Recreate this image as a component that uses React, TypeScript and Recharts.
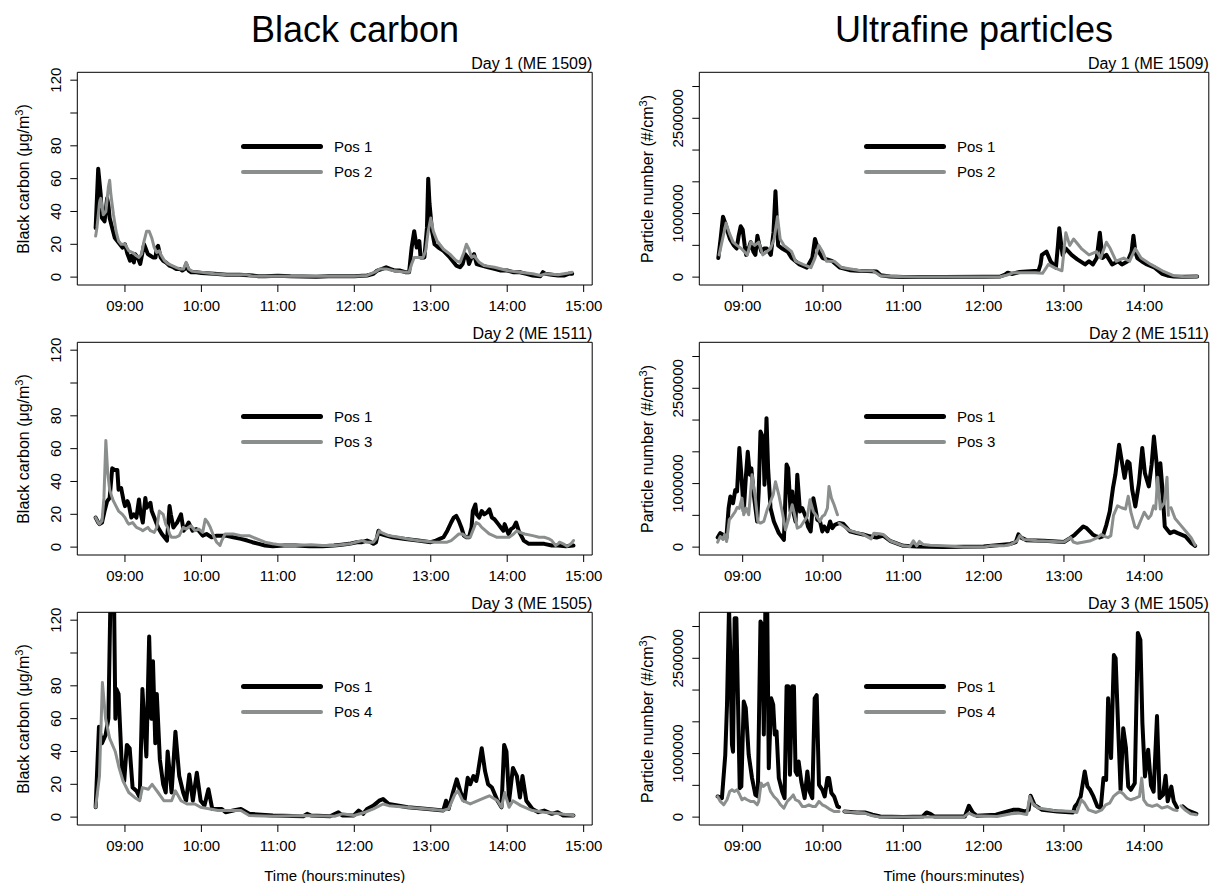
import React from "react";
import { LineChart, Line, XAxis, YAxis, ReferenceArea } from "recharts";

type Pt = [number, number | null];

// time is minutes after midnight
const bcHourTicks = [540, 600, 660, 720, 780, 840, 900];
const ufpHourTicks = [540, 600, 660, 720, 780, 840];
const bcTicks = [0, 20, 40, 60, 80, 100, 120];
const bcTickLabels = [0, 20, 40, 60, 80, 120];
const ufpTicks = [0, 500000, 1000000, 1500000, 2000000, 2500000, 3000000];
const ufpTickLabels = [0, 1000000, 2500000];
const dayLabels = ["Day 1 (ME 1509)", "Day 2 (ME 1511)", "Day 3 (ME 1505)"];
const refNames = ["Pos 2", "Pos 3", "Pos 4"];

// Black carbon (µg/m3)
const bcDay1Pos1: Pt[] = [
  [517, 30], [519, 66], [521, 50], [522, 36], [524, 34], [526, 48], [527, 44], [528, 36], [530, 30], [532, 24],
  [534, 22], [536, 20], [538, 18], [540, 20], [542, 14], [544, 10], [545, 13], [547, 9], [548, 14], [550, 12],
  [552, 8], [553, 12], [555, 20], [556, 18], [558, 14], [560, 13], [562, 12], [564, 12], [565, 18], [566, 19],
  [568, 12], [570, 10], [572, 9], [575, 7], [578, 6], [580, 5], [583, 5], [585, 4], [587, 5], [588, 8],
  [590, 4], [592, 3], [596, 3], [600, 2.5], [610, 2], [620, 1.5], [630, 1.5], [640, 1], [645, 0.5], [650, 0.5],
  [660, 0.8], [670, 0.5], [690, 0.3], [700, 0.5], [710, 0.5], [720, 0.5], [730, 1], [735, 2], [738, 4], [742, 5],
  [745, 6], [748, 5], [752, 4], [756, 4], [760, 3], [763, 3], [765, 18], [767, 28], [769, 18], [771, 22],
  [772, 12], [775, 12], [777, 30], [778, 60], [779, 45], [781, 28], [783, 20], [786, 18], [790, 16], [795, 12],
  [798, 9], [800, 7], [803, 6], [805, 8], [807, 14], [809, 12], [810, 8], [812, 12], [814, 14], [816, 8],
  [820, 7], [825, 6], [830, 5], [835, 4], [840, 4], [845, 3], [850, 3], [855, 2], [860, 1], [866, 0.5],
  [868, 3], [870, 2], [875, 1.5], [880, 1], [885, 1], [888, 2], [891, 2],
];
const bcDay1Pos2: Pt[] = [
  [517, 25], [518, 30], [520, 45], [521, 48], [523, 38], [525, 40], [527, 55], [528, 59], [529, 50], [531, 38],
  [533, 28], [535, 22], [537, 20], [540, 20], [543, 16], [546, 15], [549, 13], [551, 12], [553, 14], [555, 22],
  [557, 28], [559, 28], [561, 24], [563, 18], [565, 15], [567, 16], [568, 14], [571, 10], [574, 8], [577, 7],
  [580, 6], [583, 5], [586, 5], [588, 9], [590, 5], [593, 3.5], [600, 3], [610, 2], [620, 1.5], [635, 1.5],
  [640, 0.5], [660, 0.5], [690, 0.5], [720, 0.5], [730, 1], [736, 3], [740, 5], [745, 5], [750, 4], [760, 3],
  [763, 3], [765, 8], [767, 12], [770, 12], [774, 12], [776, 16], [778, 28], [780, 36], [782, 28], [785, 22],
  [790, 17], [795, 14], [800, 10], [803, 9], [806, 15], [808, 20], [810, 17], [812, 12], [814, 13], [818, 9],
  [822, 7], [830, 6], [840, 4], [850, 3], [860, 2], [866, 1], [870, 2], [880, 1.5], [888, 2.5], [891, 3],
];
const bcDay2Pos1: Pt[] = [
  [517, 18], [519, 15], [520, 14], [522, 15], [524, 22], [526, 28], [528, 30], [530, 48], [532, 47], [534, 47],
  [535, 35], [537, 36], [539, 28], [540, 25], [542, 28], [543, 26], [545, 18], [547, 20], [549, 18], [551, 29],
  [552, 22], [554, 15], [556, 30], [557, 24], [558, 25], [560, 27], [561, 22], [563, 18], [566, 12], [569, 8],
  [571, 6], [573, 4], [575, 25], [576, 20], [578, 12], [580, 14], [581, 15], [584, 20], [586, 10], [588, 12],
  [590, 15], [593, 10], [596, 11], [598, 10], [601, 7], [604, 8], [608, 6], [612, 7], [619, 7], [625, 6],
  [631, 5], [636, 4], [640, 3], [645, 2], [650, 1], [656, 0.5], [665, 1], [674, 1], [685, 0.5], [695, 0.5],
  [704, 1], [710, 1.5], [716, 2], [722, 3], [726, 3], [730, 4], [733, 3], [735, 2], [737, 3], [739, 10],
  [741, 8], [745, 7], [750, 6], [760, 5], [770, 4], [780, 3], [784, 4], [787, 5], [790, 6], [793, 10],
  [796, 15], [798, 18], [800, 19], [802, 16], [804, 12], [806, 7], [808, 6], [810, 6], [812, 12], [813, 22],
  [815, 26], [816, 20], [818, 18], [820, 22], [822, 20], [824, 21], [826, 23], [828, 18], [830, 17], [833, 14],
  [835, 12], [837, 10], [838, 14], [840, 10], [841, 8], [843, 11], [845, 12], [847, 15], [849, 10], [851, 7],
  [853, 4], [857, 2], [862, 2], [869, 2], [875, 1], [880, 1], [886, 0.5], [892, 1],
];
const bcDay2Pos3: Pt[] = [
  [517, 18], [519, 15], [520, 14], [522, 16], [523.5, 30], [525, 65], [526.5, 45], [528, 35], [530, 30], [531, 28],
  [533, 25], [535, 22], [538, 20], [540, 18], [542, 15], [543, 14], [546, 15], [548, 13], [549, 12], [552, 11],
  [554, 10], [556, 11], [558, 12], [560, 10], [563, 9], [565, 12], [567, 22], [570, 20], [572, 14], [573.5, 12],
  [575, 8], [576.5, 6], [580, 6], [582.6, 7], [585.7, 12], [588, 11], [591.8, 13], [595, 10], [598, 11], [601, 9],
  [603, 17], [605, 15], [607, 12], [610, 6], [612, 3], [614.6, 1], [616, 4], [618.6, 8], [625, 8], [631, 7],
  [637.5, 7], [643.6, 5], [650, 3], [656, 2], [665, 1], [674, 1], [686, 1.5], [695, 1], [704.5, 1], [716.7, 2],
  [726, 4], [730, 3], [735, 3], [737, 5], [739.5, 10], [741, 9], [747, 7], [755, 6], [762, 5], [770, 4],
  [783.7, 3], [792.8, 3], [796, 4], [799, 6], [802, 8], [805, 8], [808, 6], [811, 6], [813, 10], [815.6, 15],
  [818, 14], [820, 12], [823, 10], [826, 8], [829, 7], [832, 6], [836, 6], [841.5, 6], [845, 8], [847.6, 10],
  [850, 9], [853.7, 8], [860, 7], [865, 6], [869, 6], [873, 5], [875, 4], [877, 2], [878, 1], [880, 2],
  [881, 3], [884, 2], [887, 0.5], [890, 2], [892, 4],
];
const bcDay3Pos1: Pt[] = [
  [517, 6], [519.6, 55], [522, 45], [524.8, 50], [527, 60], [528.5, 128], [530, 140], [531.5, 128], [532.5, 60], [533.3, 78],
  [535, 75], [537.6, 30], [539.4, 22], [541.5, 44], [543.7, 42], [546, 18], [549, 16], [551.6, 12], [553.7, 78], [555, 60],
  [556.8, 37], [559, 110], [560.7, 60], [562, 95], [563.8, 45], [565, 75], [567.4, 35], [570, 20], [572, 15], [573.5, 40],
  [576.6, 15], [579.6, 52], [582.6, 25], [585.7, 15], [588, 10], [590.5, 26], [593.3, 10], [596.4, 27], [599.4, 10], [602.4, 7],
  [605.5, 17], [608.5, 5], [616, 5], [619, 3], [625, 4], [631, 5], [637.5, 2], [656, 1], [680, 0.5], [683, 2],
  [686, 1], [701, 0.5], [707.5, 3], [710.6, 1], [719.7, 1], [723.4, 4], [727, 2], [730, 5], [735, 7], [739.5, 10],
  [742.6, 11], [747, 8], [762, 6], [777.6, 5], [789.8, 4], [792, 10], [794, 5], [797.4, 15], [800.4, 23], [803.5, 15],
  [806.5, 10], [809, 24], [811, 20], [813.5, 25], [815.7, 22], [817, 27], [820, 42], [822.6, 28], [825, 20], [828, 18],
  [832.4, 10], [835.5, 6], [837.6, 44], [839.4, 40], [841.5, 10], [844.5, 30], [847.6, 25], [850, 12], [852, 25], [855, 10],
  [859.8, 5], [864.4, 3], [869, 4], [875, 2], [879.6, 3], [884, 1], [892, 1],
];
const bcDay3Pos4: Pt[] = [
  [517, 6], [520, 25], [522.3, 82], [524.8, 60], [528, 48], [532.4, 40], [535.4, 30], [538.5, 22], [543, 15], [547.6, 12],
  [551.6, 10], [553.7, 18], [558.3, 17], [561.3, 20], [566, 15], [570.5, 10], [576.6, 10], [579.6, 16], [584, 10], [588.7, 8],
  [594.8, 8], [599.4, 6], [607, 5], [613, 4], [631, 4], [637.5, 1], [656, 0.5], [680, 1], [704.5, 0.5], [710.6, 2],
  [719.7, 1], [728.7, 3], [735, 5], [742.6, 8], [747, 7], [777.6, 5], [789.8, 4], [794, 5], [799, 14], [801.3, 16],
  [805, 10], [811, 8], [817, 10], [823, 12], [826, 13], [832.4, 10], [835.5, 6], [838, 15], [841.5, 6], [844.5, 10],
  [850.7, 7], [859.8, 4], [869, 3], [881, 2], [892, 1],
];

// Ultrafine particles (#/cm3)
const ufpDay1Pos1: Pt[] = [
  [521.8, 300000], [523.5, 600000], [525.3, 950000], [527, 850000], [529, 700000], [530.5, 600000], [533.4, 500000], [535.5, 450000],
  [537, 650000], [538.5, 800000], [540, 750000], [541.5, 500000], [542.6, 350000], [544.5, 450000], [546, 550000], [548, 400000],
  [549.5, 350000], [551, 650000], [552.5, 500000], [554, 400000], [556, 450000], [558, 450000], [561, 350000], [563, 700000],
  [564.5, 1350000], [565.5, 900000], [566.5, 500000], [569.4, 450000], [573.7, 400000], [576.6, 300000], [579.5, 250000], [582.4, 200000],
  [588, 150000], [592, 300000], [594, 600000], [595.5, 500000], [596.8, 400000], [599.7, 300000], [603, 280000], [607, 250000],
  [612.7, 150000], [620, 110000], [625.7, 100000], [633, 95000], [640, 90000], [643, 30000], [650, 10000], [660, 0],
  [690, 0], [720, 5000], [732.4, 10000], [736, 40000], [738, 70000], [741, 50000], [746.8, 80000], [752, 90000],
  [761, 100000], [762.5, 200000], [763.5, 350000], [767, 400000], [770, 250000], [774, 150000], [775.5, 500000], [776.5, 770000],
  [778, 500000], [779, 350000], [781.4, 450000], [785.7, 350000], [790, 280000], [795.8, 200000], [798.7, 250000], [801.6, 200000],
  [804.5, 300000], [806.8, 700000], [808.8, 300000], [811.7, 350000], [816, 200000], [820.4, 250000], [823.3, 200000], [827.6, 250000],
  [830.5, 400000], [831.9, 650000], [833.3, 400000], [834.8, 300000], [838, 250000], [842, 200000], [847.8, 150000], [853.5, 50000],
  [858, 20000], [862, 10000], [870, 5000], [879.5, 10000],
];
const ufpDay1Pos2: Pt[] = [
  [522.4, 350000], [525, 600000], [527.6, 850000], [529.9, 700000], [532.8, 550000], [535.7, 500000], [539, 450000], [543.5, 350000],
  [546, 550000], [549, 500000], [552, 550000], [555, 350000], [558, 400000], [560.8, 450000], [563.5, 600000], [566, 950000],
  [568, 600000], [570.8, 500000], [573.7, 450000], [576.6, 400000], [579.5, 250000], [585, 200000], [591, 150000], [594, 300000],
  [596.8, 500000], [599.7, 400000], [602.6, 250000], [608.4, 250000], [614, 150000], [628.5, 100000], [637, 100000], [643, 20000],
  [660, 5000], [671.8, 0], [700, 0], [732.4, 5000], [737, 30000], [742.5, 70000], [758.4, 70000], [764, 60000],
  [768.4, 200000], [772.8, 150000], [778.5, 100000], [781.4, 700000], [784.3, 500000], [787.2, 600000], [793, 450000], [798.7, 350000],
  [804.5, 400000], [807.4, 300000], [810, 450000], [811.7, 550000], [814.6, 450000], [818.9, 250000], [824.7, 300000], [829, 250000],
  [833.3, 450000], [837.6, 300000], [844.9, 200000], [853.5, 100000], [862.2, 20000], [870, 5000], [879.5, 10000],
];
const ufpDay2Pos1: Pt[] = [
  [521.3, 152000], [523.3, 220000], [525.3, 195000], [527.8, 140000], [529.5, 614000], [530.8, 797000], [532.8, 692000], [534.5, 900000],
  [535.8, 876000], [537.5, 1560000], [539, 1140000], [540.8, 561000], [542.5, 1140000], [543.8, 1500000], [545.3, 1140000], [546.5, 1240000],
  [548.3, 824000], [550.8, 404000], [552, 876000], [553.3, 1820000], [555.3, 1720000], [556.3, 981000], [557.8, 2030000], [559, 1240000],
  [560.8, 614000], [563.3, 404000], [567, 220000], [570.8, 115000], [572.8, 1300000], [574, 1240000], [575.8, 561000], [577, 876000],
  [578.3, 509000], [579.5, 404000], [580.8, 1140000], [582.8, 561000], [584.5, 614000], [587, 483000], [588.8, 325000], [590.8, 247000],
  [592.8, 771000], [594.3, 614000], [595.8, 430000], [597.8, 404000], [599.5, 247000], [600.8, 325000], [603.3, 247000], [605.3, 404000],
  [607, 299000], [608.8, 351000], [612, 378000], [615, 370000], [620, 250000], [625, 220000], [630, 200000], [635, 170000],
  [640, 150000], [645, 180000], [650, 100000], [655, 60000], [660, 20000], [670, 10000], [680, 5000], [690, 0],
  [720, 10000], [730, 30000], [740, 50000], [744, 80000], [746, 200000], [748, 150000], [752, 110000], [765, 100000],
  [780, 80000], [784.5, 142000], [788, 194000], [790.6, 247000], [794.4, 325000], [796.9, 300000], [799.3, 247000], [801.8, 194000],
  [804.3, 168000], [806.8, 152000], [809, 168000], [811.7, 351000], [814.2, 561000], [816.6, 928000], [818.4, 1140000], [821.2, 1610000],
  [823.6, 1300000], [825.3, 1090000], [827.4, 1350000], [829, 1320000], [831, 900000], [833.3, 640000], [836, 1000000], [838.5, 1560000],
  [840.5, 1160000], [843.4, 955000], [845.5, 1300000], [847.2, 1740000], [849.2, 1320000], [850.5, 800000], [852, 1320000], [853.6, 900000],
  [855.3, 325000], [859.3, 220000], [862.2, 247000], [865, 220000], [870.8, 168000], [875.2, 63000], [878, 20000],
];
const ufpDay2Pos3: Pt[] = [
  [521.3, 79000], [523.3, 168000], [525.3, 120000], [526.5, 200000], [528, 89000], [530, 430000], [532, 483000], [534.5, 561000],
  [535.8, 624000], [537.5, 610000], [539.5, 771000], [540.8, 509000], [542.5, 614000], [544.5, 509000], [547, 1140000], [549.5, 771000],
  [551.3, 404000], [553.3, 378000], [555.8, 404000], [558.3, 587000], [560.8, 719000], [562.8, 824000], [564.5, 1030000], [567, 824000],
  [569.5, 561000], [572, 273000], [574.5, 456000], [577, 666000], [578.8, 509000], [580.8, 299000], [583.3, 325000], [585.8, 404000],
  [588.3, 483000], [590.3, 745000], [592.8, 561000], [595.3, 483000], [597.8, 404000], [599.5, 483000], [601.3, 509000], [603.3, 614000],
  [604.5, 955000], [606.3, 771000], [608.3, 666000], [610.8, 509000], [611.4, null], [612, 378000], [620, 260000], [630, 200000],
  [636, 130000], [638, 220000], [642, 210000], [645, 200000], [650, 100000], [660, 20000], [665, 10000], [667.5, 100000],
  [670, 20000], [672, 90000], [675, 40000], [680, 30000], [690, 20000], [705, 0], [720, 0], [725, 20000],
  [735, 20000], [740, 40000], [745, 100000], [747, 180000], [750, 120000], [760, 100000], [780, 80000], [785, 150000],
  [787, 80000], [790, 60000], [800, 100000], [805, 150000], [808, 200000], [810, 170000], [813, 150000], [815, 180000],
  [817, 500000], [820, 650000], [823, 620000], [826, 600000], [828, 800000], [830, 550000], [833, 320000], [835, 300000],
  [838, 450000], [840, 550000], [843, 450000], [845, 500000], [847, 650000], [848.5, 600000], [850, 1100000], [852, 600000],
  [855, 700000], [857, 1100000], [858, 500000], [858.8, null], [860, 620000], [863, 450000], [867, 350000], [871, 250000],
  [875, 150000], [878, 30000],
];
const ufpDay3Pos1: Pt[] = [
  [521.3, 325000], [524.5, 300000], [527, 981000], [528.3, 1770000], [529.8, 3300000], [530.8, 2550000], [532, 1140000], [532.8, 1030000],
  [534, 3130000], [535.3, 3130000], [536.3, 2030000], [537.8, 456000], [539, 483000], [540.8, 1820000], [542.3, 1720000], [544.5, 981000],
  [547, 614000], [549.5, 351000], [551.3, 325000], [553.3, 3080000], [554.5, 3030000], [555.8, 1300000], [557, 3400000], [558.3, 3400000],
  [559.5, 771000], [561.3, 1870000], [562.8, 1770000], [564, 1300000], [565.3, 1350000], [567, 614000], [569.5, 404000], [571.3, 299000],
  [572.8, 2060000], [574, 2060000], [575.3, 666000], [577, 2060000], [578.3, 2060000], [579.5, 719000], [580.8, 666000], [581.8, 876000],
  [583.8, 561000], [586.3, 299000], [588.3, 719000], [590, 404000], [592, 299000], [593.8, 1870000], [595.3, 1920000], [597, 509000],
  [599.5, 430000], [601.3, 325000], [603.3, 614000], [604.5, 614000], [606.3, 378000], [608.3, 325000], [610.8, 168000], [612, 157000],
  [614, null], [616, 89000], [625.5, 73000], [631.3, 73000], [637, 37000], [642.8, 10000], [660, 0], [674.5, 10000],
  [677.4, 73000], [680.2, 52000], [683, 10000], [706, 10000], [709, 178000], [711.9, 73000], [714.8, 21000], [729.2, 37000],
  [737.8, 89000], [742, 115000], [746.5, 115000], [750.8, 89000], [753.6, 115000], [755.1, 336000], [758, 194000], [763.7, 115000],
  [775.2, 89000], [786.8, 73000], [788.2, 168000], [790.2, 220000], [792.5, 325000], [795.5, 719000], [797.5, 483000], [799.5, 430000],
  [802, 325000], [805, 168000], [807.5, 142000], [809.5, 614000], [811.5, 587000], [813, 1870000], [815.2, 930000], [817.3, 2550000],
  [818.6, 2500000], [820.5, 1400000], [822.3, 430000], [824.3, 1400000], [826.3, 1090000], [828, 483000], [830, 430000], [832.9, 535000],
  [835.2, 2900000], [837.1, 2790000], [838.6, 1480000], [840.5, 640000], [842.9, 1060000], [845, 500000], [847, 400000], [849.5, 1590000],
  [851.5, 300000], [854, 350000], [855.9, 650000], [857.5, 250000], [860.2, 480000], [862, 250000], [864.5, 150000], [865.5, null],
  [868.8, 168000], [871.7, 115000], [874.6, 89000], [878.9, 52000],
];
const ufpDay3Pos4: Pt[] = [
  [521.3, 325000], [523.3, 247000], [525.8, 194000], [528.3, 273000], [530.3, 404000], [532, 430000], [533.8, 404000], [535.8, 430000],
  [537.8, 351000], [539.5, 273000], [541.3, 299000], [543.3, 273000], [545.8, 247000], [548.3, 247000], [550.8, 194000], [552, 247000],
  [553.8, 535000], [555.3, 483000], [557, 509000], [558.8, 535000], [560.8, 404000], [563.3, 325000], [565.8, 273000], [568.3, 194000],
  [570.8, 142000], [573.3, 247000], [575.8, 299000], [577.8, 351000], [579.5, 273000], [582, 247000], [584.5, 168000], [587, 168000],
  [589.5, 194000], [592, 168000], [594.5, 168000], [597, 247000], [599.5, 194000], [602, 168000], [604.5, 131000], [608.3, 89000],
  [612, 89000], [614, null], [616, 89000], [620, 80000], [631.3, 63000], [637, 20000], [642.8, 0], [671.6, 0],
  [705, 0], [709, 63000], [713.3, 20000], [730, 10000], [740.7, 52000], [746.5, 63000], [752.2, 40000], [754.5, 325000],
  [756.5, 220000], [760.8, 142000], [772.4, 105000], [786.8, 89000], [789.6, 73000], [793, 273000], [795.4, 220000], [798.3, 115000],
  [804, 73000], [808.3, 115000], [811.2, 194000], [814.1, 220000], [817, 325000], [819.9, 378000], [821.9, 404000], [824.2, 367000],
  [827.1, 299000], [830, 273000], [833.5, 299000], [836.4, 325000], [838.1, 614000], [839.6, 273000], [842.2, 194000], [845.9, 168000],
  [849.6, 194000], [853.1, 142000], [857.4, 168000], [861.7, 115000], [864.5, 105000], [865.5, null], [867.4, 178000], [870.3, 115000],
  [874.6, 52000], [878.9, 37000],
];

const bcPos1 = [bcDay1Pos1, bcDay2Pos1, bcDay3Pos1];
const bcRef = [bcDay1Pos2, bcDay2Pos3, bcDay3Pos4];
const ufpPos1 = [ufpDay1Pos1, ufpDay2Pos1, ufpDay3Pos1];
const ufpRef = [ufpDay1Pos2, ufpDay2Pos3, ufpDay3Pos4];

const GREY = "#8a8e8c";
const FONT = "'Liberation Sans', Arial, Helvetica, sans-serif";
const BOX_TOP = 72.3;
const BOX_H = 212.7;
const ROW = 270;
const CHART_TOP = 40;
const CHART_H = 280;

const hhmm = (m: number) => {
  const h = Math.floor(m / 60);
  const mm = Math.round(m - h * 60);
  return `${String(h).padStart(2, "0")}:${String(mm).padStart(2, "0")}`;
};

const toRows = (pts: Pt[]) => pts.map(([t, v]) => ({ t, v }));

function YTick(props: any) {
  const { x, y, payload, labels } = props;
  if (!labels.includes(payload.value)) return null;
  return (
    <text x={x} y={y} transform={`rotate(-90 ${x} ${y})`} textAnchor="middle" fontSize={15} fill="#000">
      {payload.value}
    </text>
  );
}

interface PanelProps {
  row: number;
  x0: number;
  w: number;
  boxLeft: number;
  boxRight: number;
  xDomain: [number, number];
  xTicks: number[];
  yDomain: [number, number];
  yTicks: number[];
  yLabels: number[];
  pos1: Pt[];
  ref2: Pt[];
}

function Panel(p: PanelProps) {
  const top = p.row * ROW + CHART_TOP;
  return (
    <div style={{ position: "absolute", left: p.x0, top, width: p.w, height: CHART_H }}>
      <LineChart
        width={p.w}
        height={CHART_H}
        margin={{ top: BOX_TOP - CHART_TOP, right: p.x0 + p.w - p.boxRight, bottom: 0, left: 0 }}
      >
        <XAxis
          dataKey="t"
          type="number"
          domain={p.xDomain}
          ticks={p.xTicks}
          interval={0}
          allowDataOverflow
          axisLine={false}
          tickSize={7}
          tickMargin={8}
          tickLine={{ stroke: "#000" }}
          tick={{ fill: "#000", fontSize: 15 }}
          tickFormatter={hhmm}
          height={CHART_H - (BOX_TOP - CHART_TOP) - BOX_H}
        />
        <YAxis
          type="number"
          domain={p.yDomain}
          ticks={p.yTicks}
          interval={0}
          allowDataOverflow
          axisLine={false}
          width={p.boxLeft - p.x0}
          tickSize={7}
          tickMargin={9}
          tickLine={{ stroke: "#000" }}
          tick={(tp: any) => <YTick {...tp} labels={p.yLabels} />}
        />
        <ReferenceArea
          x1={p.xDomain[0]}
          x2={p.xDomain[1]}
          y1={p.yDomain[0]}
          y2={p.yDomain[1]}
          fill="none"
          stroke="#000"
          strokeWidth={1}
          ifOverflow="visible"
        />
        <Line
          data={toRows(p.pos1)}
          dataKey="v"
          name="Pos 1"
          stroke="#000"
          strokeWidth={4}
          strokeLinejoin="round"
          strokeLinecap="round"
          dot={false}
          activeDot={false}
          connectNulls={false}
          isAnimationActive={false}
        />
        <Line
          data={toRows(p.ref2)}
          dataKey="v"
          name={refNames[p.row]}
          stroke={GREY}
          strokeWidth={3}
          strokeLinejoin="round"
          strokeLinecap="round"
          dot={false}
          activeDot={false}
          connectNulls={false}
          isAnimationActive={false}
        />
      </LineChart>
    </div>
  );
}

const abs = (extra: React.CSSProperties): React.CSSProperties => ({
  position: "absolute",
  whiteSpace: "nowrap",
  lineHeight: 1,
  ...extra,
});

function Overlay({ row, boxRight, yTitle, titleX, legendX }: any) {
  const boxTop = BOX_TOP + row * ROW;
  const cy = boxTop + BOX_H / 2;
  const ly = 146.7 + row * ROW;
  return (
    <>
      <div style={abs({ right: 1215 - boxRight, top: boxTop - 16, fontSize: 16 })}>{dayLabels[row]}</div>
      <div
        style={abs({
          left: titleX,
          top: cy,
          fontSize: 16,
          transform: "translate(-50%, -50%) rotate(-90deg)",
        })}
      >
        {yTitle}
      </div>
      <div style={abs({ left: legendX, top: ly - 2.5, width: 82, height: 5, background: "#000", borderRadius: 2.5 })} />
      <div style={abs({ left: legendX, top: ly + 25 - 2, width: 82, height: 4, background: GREY, borderRadius: 2 })} />
      <div style={abs({ left: legendX + 93, top: ly - 7.5, fontSize: 15 })}>Pos 1</div>
      <div style={abs({ left: legendX + 93, top: ly + 25 - 7.5, fontSize: 15 })}>{refNames[row]}</div>
    </>
  );
}

export default function App() {
  const rows = [0, 1, 2];
  const bcTitle = (
    <span>
      Black carbon (μg/m<sup style={{ fontSize: 11 }}>3</sup>)
    </span>
  );
  const ufpTitle = (
    <span>
      Particle number (#/cm<sup style={{ fontSize: 11 }}>3</sup>)
    </span>
  );
  return (
    <div
      style={{
        position: "absolute",
        left: 0,
        top: 0,
        width: 1215,
        height: 883,
        background: "#fff",
        fontFamily: FONT,
        color: "#000",
        overflow: "hidden",
      }}
    >
      <div style={abs({ left: 355, top: 30, fontSize: 36, transform: "translate(-50%, -50%)" })}>Black carbon</div>
      <div style={abs({ left: 974, top: 30, fontSize: 36, transform: "translate(-50%, -50%)" })}>Ultrafine particles</div>

      {rows.map((r) => (
        <Panel
          key={`bc${r}`}
          row={r}
          x0={0}
          w={607}
          boxLeft={77.3}
          boxRight={592.2}
          xDomain={[502.6, 906.7]}
          xTicks={bcHourTicks}
          yDomain={[-4.8, 124.8]}
          yTicks={bcTicks}
          yLabels={bcTickLabels}
          pos1={bcPos1[r]}
          ref2={bcRef[r]}
        />
      ))}
      {rows.map((r) => (
        <Panel
          key={`ufp${r}`}
          row={r}
          x0={607}
          w={608}
          boxLeft={699.3}
          boxRight={1208.8}
          xDomain={[507.6, 888.2]}
          xTicks={ufpHourTicks}
          yDomain={[-124000, 3224000]}
          yTicks={ufpTicks}
          yLabels={ufpTickLabels}
          pos1={ufpPos1[r]}
          ref2={ufpRef[r]}
        />
      ))}
      {rows.map((r) => (
        <Overlay key={`obc${r}`} row={r} boxRight={592.2} yTitle={bcTitle} titleX={23} legendX={241} />
      ))}
      {rows.map((r) => (
        <Overlay key={`oufp${r}`} row={r} boxRight={1208.8} yTitle={ufpTitle} titleX={646.5} legendX={864} />
      ))}

      <div style={abs({ left: 334.8, top: 875, fontSize: 15, transform: "translate(-50%, -50%)" })}>Time (hours:minutes)</div>
      <div style={abs({ left: 954, top: 875, fontSize: 15, transform: "translate(-50%, -50%)" })}>Time (hours:minutes)</div>
    </div>
  );
}
